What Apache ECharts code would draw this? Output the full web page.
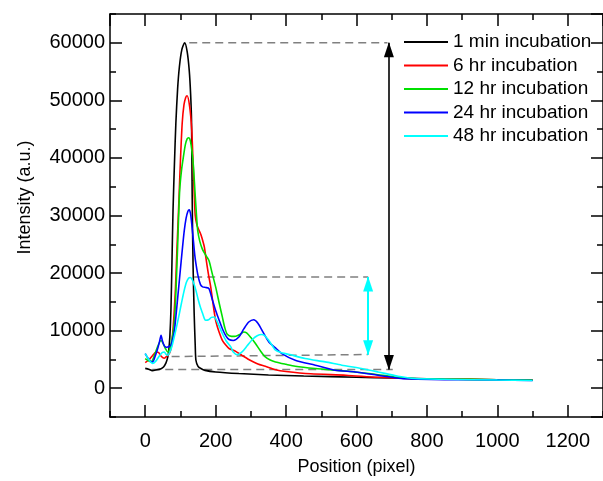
<!DOCTYPE html>
<html>
<head>
<meta charset="utf-8">
<script src="https://cdn.jsdelivr.net/npm/echarts@6/dist/echarts.min.js"></script>
<style>
html,body{margin:0;padding:0;background:#fff;}
#chart{width:603px;height:481px;}
</style>
</head>
<body>
<div id="chart"></div>
<script>
// ---- Data (Position in pixel, Intensity in a.u.) ----
const seriesNames = ['1 min incubation', '6 hr incubation', '12 hr incubation', '24 hr incubation', '48 hr incubation'];
const seriesColors = ['#000000', '#ff0000', '#00e000', '#0000ff', '#00ffff'];

const min1 = [[0,3450],[10,3300],[20,3050],[30,3150],[45,3400],[52,3700],[59,4400],[64,5400],[67,6600],[70,9000],[73,13500],[76,22000],[79,31000],[83,39000],[87,46000],[92,52000],[97,55800],[104,58800],[112,60000],[119,58500],[125,55200],[129,51000],[131.5,46500],[133,36100],[134,29700],[136,21000],[139,13000],[142,7500],[144,4860],[150,3800],[158,3420],[170,3100],[200,2830],[266,2550],[350,2300],[450,2120],[600,1900],[700,1780],[800,1650],[900,1550],[1000,1470],[1100,1400]];

const hr6 = [[0,4450],[10,4900],[20,5600],[31,6300],[38,6200],[46,5500],[54,5200],[62,5600],[69,6100],[74,7200],[78,9500],[82,13000],[86,17500],[90,24000],[95,31500],[100,39500],[105,46000],[110,49200],[115,50500],[119,50800],[126,49000],[132,45000],[136,39000],[139,34000],[142,30000],[147,28300],[153,27400],[158,26700],[163,25700],[168,24500],[172,22800],[179,20000],[186,17600],[193,14500],[200,11800],[210,9700],[219,8330],[230,7400],[238,6900],[257,6400],[275,5700],[294,5000],[320,4200],[341,3800],[370,3200],[400,2900],[470,2500],[570,2250],[660,1900],[750,1700],[850,1600],[1000,1480],[1100,1400]];

const hr12 = [[0,5150],[8,4800],[17,4570],[25,5500],[35,7200],[45,8330],[52,7600],[58,6800],[64,6300],[70,6800],[76,8500],[80,10000],[83,11800],[86,15000],[89,19500],[92,24500],[95,30000],[98,34500],[103,37800],[108,40000],[114,42300],[119,43300],[123,43500],[128,43000],[133,41000],[137,38500],[140,35500],[143,32500],[146,29700],[149,27400],[155,25500],[162,24200],[167,23600],[174,22900],[181,22200],[190,20000],[200,17600],[210,14800],[219,12380],[226,10500],[233,9370],[245,9000],[257,9030],[270,9400],[280,9770],[288,9600],[300,8800],[313,7760],[327,6500],[341,5430],[355,4900],[370,4570],[400,4150],[426,3820],[483,3420],[539,3120],[596,2830],[652,2430],[708,1960],[760,1700],[850,1600],[1000,1480],[1100,1400]];

const hr24 = [[0,6020],[8,5200],[15,4700],[21,4570],[28,5500],[35,6800],[41,8200],[45,9200],[49,8200],[54,7400],[60,7100],[64,7170],[69,7300],[73,7460],[78,8500],[83,10070],[88,13000],[93,16200],[97,18750],[102,22000],[106,24500],[111,27400],[116,29500],[121,30700],[125,31000],[129,30200],[133,28000],[137,25500],[141,23000],[144,21650],[150,19500],[157,18000],[163,17600],[172,17500],[181,17300],[190,15500],[200,13500],[210,11800],[220,10200],[230,9000],[238,8450],[250,8300],[266,8900],[280,10300],[294,11500],[308,11900],[320,11300],[335,9700],[351,8040],[370,7000],[388,6020],[426,4860],[483,4000],[539,3120],[596,2830],[661,2260],[727,1680],[774,1560],[850,1500],[1000,1420],[1100,1350]];

const hr48 = [[0,6000],[8,5200],[15,4600],[21,4300],[30,4700],[40,5600],[48,6200],[54,6300],[59,5900],[64,5730],[70,6300],[76,7300],[82,8800],[88,10400],[93,11800],[97,12970],[103,14800],[110,16800],[117,18400],[123,19100],[128,19220],[133,18900],[138,18200],[144,17000],[150,15500],[157,14000],[163,12970],[168,12100],[172,11800],[180,11900],[188,12300],[196,12380],[205,11500],[212,10500],[219,9500],[230,8200],[243,7170],[250,6300],[262,5800],[275,6300],[290,7400],[305,8500],[318,9100],[330,9320],[340,9100],[352,8200],[362,7300],[370,6600],[385,6200],[407,5900],[454,5150],[511,4570],[558,4000],[614,3420],[661,2830],[718,2080],[765,1680],[850,1550],[1000,1420],[1100,1350]];

const seriesData = [min1, hr6, hr12, hr24, hr48];

// Annotation guides (dashed reference levels) and arrows
const guideTop = [[125,60000],[688,60000]];
const guideBase = [[20,3250],[703,3250]];
const guideCyanTop = [[139,19300],[633,19300]];
const guideCyanBase = [[75,5500],[633,5850]];
const arrowBlack = [[692,60000],[692,3250]];
const arrowCyan = [[633,19300],[633,5800]];

// Axis ranges and tick spacing
const xRange = [-100, 1300];
const yRange = [-5000, 65000];
const xStep = 200, yStep = 10000;

const FONT = 'Liberation Sans, Arial, sans-serif';

const chart = echarts.init(document.getElementById('chart'), null, {renderer: 'canvas'});

const plainNum = v => String(v);

function majorAxis(range, step, pos, showLabels, extra) {
  return Object.assign({
    type: 'value', position: pos, min: range[0], max: range[1],
    splitNumber: Math.round((range[1] - range[0]) / step),
    axisLine: {show: true, onZero: false, lineStyle: {color: '#000', width: 1.5}},
    axisTick: {show: true, inside: true, length: 12, lineStyle: {color: '#000', width: 1.5}},
    axisLabel: {show: showLabels, showMinLabel: false, showMaxLabel: false, color: '#000', fontSize: 20, fontFamily: FONT, formatter: plainNum},
    splitLine: {show: false}
  }, extra || {});
}
function minorAxis(range, step, pos) {
  return {
    type: 'value', position: pos, min: range[0], max: range[1], interval: step,
    axisLine: {show: false, onZero: false},
    axisTick: {show: true, inside: true, length: 6, lineStyle: {color: '#000', width: 1.5}},
    axisLabel: {show: false},
    splitLine: {show: false}
  };
}

const series = seriesNames.map((name, i) => ({
  name: name, type: 'line', data: seriesData[i], xAxisIndex: 0, yAxisIndex: 0,
  symbol: 'none', smooth: 0.25, z: 3 + i,
  lineStyle: {color: seriesColors[i], width: 1.6},
  itemStyle: {color: seriesColors[i]}
}));

const dashStyle = {color: '#808080', width: 1.5, type: [8, 5]};
[guideTop, guideBase, guideCyanTop, guideCyanBase].forEach((g, k) => {
  series.push({
    name: 'guide' + k, type: 'line', data: g, symbol: 'none', silent: true, z: 2,
    lineStyle: dashStyle
  });
});

series.push({
  name: 'arrows', type: 'line', data: [], symbol: 'none', silent: true,
  markLine: {
    silent: true, animation: false, label: {show: false},
    symbol: ['triangle', 'triangle'], symbolSize: [10, 15],
    symbolOffset: [[0, 7], [0, 7]],
    data: [
      [{coord: arrowBlack[0], lineStyle: {color: '#000', width: 1.6, type: 'solid'}, itemStyle: {color: '#000'}},
       {coord: arrowBlack[1]}],
      [{coord: arrowCyan[0], lineStyle: {color: '#00ffff', width: 2, type: 'solid'}, itemStyle: {color: '#00ffff'}},
       {coord: arrowCyan[1]}]
    ]
  }
});

chart.setOption({
  animation: false,
  backgroundColor: '#fff',
  grid: {left: 110, top: 14, width: 496, height: 404, containLabel: false},
  legend: {
    data: seriesNames, orient: 'vertical', left: 399, top: 27,
    icon: 'rect', itemWidth: 44, itemHeight: 2, itemGap: 3.5,
    textStyle: {color: '#000', fontSize: 19, lineHeight: 20, fontFamily: FONT}
  },
  xAxis: [
    majorAxis(xRange, xStep, 'bottom', true, {
      name: 'Position (pixel)', nameLocation: 'middle', nameGap: 41,
      nameTextStyle: {color: '#000', fontSize: 18, fontFamily: FONT},
      axisLabel: {show: true, showMinLabel: false, showMaxLabel: false, color: '#000', fontSize: 20, fontFamily: FONT, margin: 14, formatter: plainNum}
    }),
    minorAxis(xRange, xStep, 'bottom'),
    majorAxis(xRange, xStep, 'top', false),
    minorAxis(xRange, xStep, 'top')
  ],
  yAxis: [
    majorAxis(yRange, yStep, 'left', true, {
      name: 'Intensity (a.u.)', nameLocation: 'middle', nameGap: 76,
      nameTextStyle: {color: '#000', fontSize: 18, fontFamily: FONT, padding: [0, 0, 0, 36]},
      axisLabel: {show: true, showMinLabel: false, showMaxLabel: false, color: '#000', fontSize: 20, fontFamily: FONT, margin: 5, formatter: plainNum}
    }),
    minorAxis(yRange, yStep, 'left'),
    majorAxis(yRange, yStep, 'right', false),
    minorAxis(yRange, yStep, 'right')
  ],
  series: series
});
</script>
</body>
</html>
